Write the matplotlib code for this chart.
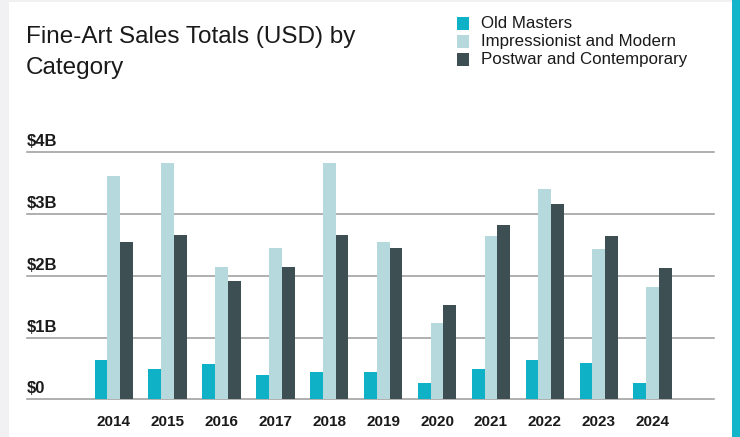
import matplotlib

matplotlib.use("Agg")
import matplotlib.pyplot as plt
import numpy as np
from matplotlib.patches import Rectangle

YEARS = ["2014", "2015", "2016", "2017", "2018", "2019", "2020", "2021", "2022", "2023", "2024"]
OLD_MASTERS = [0.64, 0.49, 0.57, 0.40, 0.44, 0.44, 0.27, 0.49, 0.64, 0.59, 0.26]
IMPRESSIONIST = [3.62, 3.82, 2.15, 2.45, 3.82, 2.54, 1.23, 2.65, 3.41, 2.43, 1.82]
POSTWAR = [2.55, 2.66, 1.91, 2.15, 2.66, 2.45, 1.52, 2.82, 3.17, 2.65, 2.13]
SERIES_NAMES = ["Old Masters", "Impressionist and Modern", "Postwar and Contemporary"]
Y_TICKS = [0, 1, 2, 3, 4]
Y_LABELS = ["$0", "$1B", "$2B", "$3B", "$4B"]
TITLE_LINES = ["Fine-Art Sales Totals (USD) by", "Category"]

COLORS = ["#0fb1c6", "#b5d9dc", "#3e4f54"]
ACCENT = "#12b5c9"
GRID = "#9a9a9a"

plt.rcParams["font.family"] = ["Liberation Sans", "DejaVu Sans"]

W, H = 740, 437
fig = plt.figure(figsize=(W / 100, H / 100), dpi=100)
fig.patch.set_facecolor("white")

# frame decorations
fig.add_artist(Rectangle((0, 0), 9 / W, 1, transform=fig.transFigure, color="#f1f1f3", lw=0))
fig.add_artist(Rectangle((0, 1 - 2 / H), 1, 2 / H, transform=fig.transFigure, color="#f1f1f3", lw=0))
fig.add_artist(Rectangle((732 / W, 0), 8 / W, 1, transform=fig.transFigure, color=ACCENT, lw=0))

left, right = 27 / W, 714 / W
bottom, top = (H - 399.3) / H, (H - 152.3) / H
ax = fig.add_axes([left, bottom, right - left, top - bottom])
ax.set_facecolor("none")

x = np.arange(len(YEARS))
bw = 0.237
for k, (vals, col) in enumerate(zip([OLD_MASTERS, IMPRESSIONIST, POSTWAR], COLORS)):
    ax.bar(x + (k - 1) * bw, vals, width=bw, color=col, lw=0, zorder=3)

ax.set_xlim(-1.61, 11.14)
ax.set_ylim(0, 4)
for s in ax.spines.values():
    s.set_visible(False)

for t, lab in zip(Y_TICKS, Y_LABELS):
    ax.axhline(t, color=GRID, lw=1.1, zorder=2, clip_on=False)
    ax.annotate(lab, xy=(0, t), xycoords=("axes fraction", "data"),
                xytext=(0, 6), textcoords="offset pixels",
                ha="left", va="baseline", fontsize=12, fontweight="bold", color="#1a1a1a")

ax.set_yticks([])
ax.set_xticks(x, labels=YEARS)
ax.tick_params(axis="x", length=0, pad=11, labelsize=11, labelcolor="#1a1a1a")
for lbl in ax.get_xticklabels():
    lbl.set_fontweight("bold")

for i, line in enumerate(TITLE_LINES):
    fig.text(25.5 / W, 1 - (43.5 + 30 * i) / H, line,
             ha="left", va="baseline", fontsize=17.5, color="#1a1a1a")

# legend
for i, (name, col) in enumerate(zip(SERIES_NAMES, COLORS)):
    yc = 23.3 + i * 18.0
    fig.add_artist(Rectangle((456.7 / W, 1 - (yc + 6.3) / H), 12.6 / W, 12.6 / H,
                             transform=fig.transFigure, color=col, lw=0))
    fig.text(481 / W, 1 - yc / H, name, ha="left", va="center",
             fontsize=12.2, color="#1a1a1a")

fig.savefig("out.png", dpi=100)
